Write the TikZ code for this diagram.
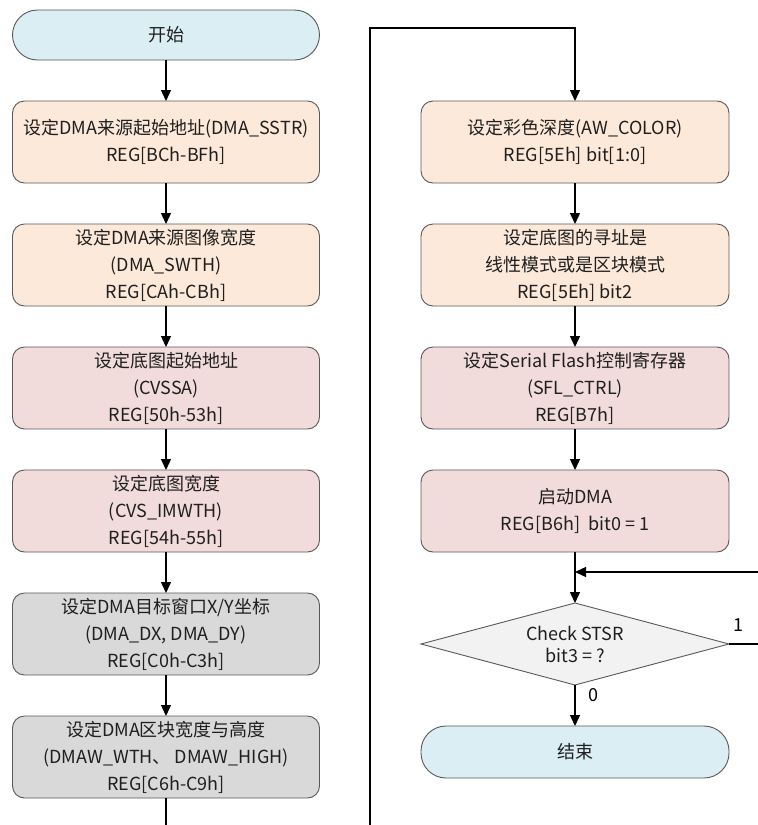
\documentclass[tikz,border=0pt]{standalone}
\usepackage{fontspec}
\setmainfont{Noto Sans CJK SC}
\usepackage{tikz}
\usetikzlibrary{arrows.meta, positioning, shapes.geometric}

\definecolor{termfill}{RGB}{218,238,243}
\definecolor{peachfill}{RGB}{253,233,217}
\definecolor{pinkfill}{RGB}{242,220,219}
\definecolor{grayfill}{RGB}{217,217,217}
\definecolor{decfill}{RGB}{242,242,242}
\definecolor{edgegray}{RGB}{89,89,89}

\begin{document}
\begin{tikzpicture}[x=1pt, y=-1pt, node distance=41pt, >={Triangle[length=11pt, width=10pt]},
		box/.style={rectangle, draw=edgegray, line width=0.9pt, outer sep=0pt, minimum width=307pt, minimum height=82pt, align=center, rounded corners=12pt, inner sep=0pt, text=black!88, font=\fontsize{18}{27}\selectfont},
		term/.style={box, rounded corners=25pt, minimum height=50pt, fill=termfill},
		decide/.style={diamond, draw=edgegray, line width=0.9pt, outer sep=0pt, fill=decfill, aspect=3.76, inner sep=0pt, minimum width=308pt, minimum height=82pt, align=center, text=black!88, font=\fontsize{18}{22}\selectfont},
		flow/.style={->, line width=1.4pt, color=black}]
		
		\useasboundingbox (0,0) rectangle (758,825);
		
		\node[term] (start) at (166,35) {开始};
		\node[box, fill=peachfill, below=of start] (sstr) {设定DMA来源起始地址(DMA\_SSTR)\\REG[BCh-BFh]};
		\node[box, fill=peachfill, below=of sstr] (swth) {设定DMA来源图像宽度\\(DMA\_SWTH)\\REG[CAh-CBh]};
		\node[box, fill=pinkfill, below=of swth] (cvssa) {设定底图起始地址\\(CVSSA)\\REG[50h-53h]};
		\node[box, fill=pinkfill, below=of cvssa] (imwth) {设定底图宽度\\(CVS\_IMWTH)\\REG[54h-55h]};
		\node[box, fill=grayfill, below=of imwth] (dxdy) {设定DMA目标窗口X/Y坐标\\(DMA\_DX, DMA\_DY)\\REG[C0h-C3h]};
		\node[box, fill=grayfill, below=of dxdy] (awwh) {设定DMA区块宽度与高度\\(DMAW\_WTH、 DMAW\_HIGH)\\REG[C6h-C9h]};
		
		\node[box, fill=peachfill, minimum width=308pt] (color) at (575,142) {设定彩色深度(AW\_COLOR)\\REG[5Eh] bit[1:0]};
		\node[box, fill=peachfill, minimum width=308pt, below=of color] (mode) {设定底图的寻址是\\线性模式或是区块模式\\REG[5Eh] bit2};
		\node[box, fill=pinkfill, minimum width=308pt, below=of mode] (sflctrl) {设定Serial Flash控制寄存器\\(SFL\_CTRL)\\REG[B7h]};
		\node[box, fill=pinkfill, minimum width=308pt, below=of sflctrl] (dmago) {启动DMA\\REG[B6h]\ \ bit0 = 1};
		\node[decide] (check) at (575,644) {Check STSR\\bit3 = ?};
		\node[term, minimum width=308pt, minimum height=52pt, below=of check] (finish) {结束};
		
		\coordinate (lout) at (166,825);
		\coordinate (rin) at (370,825);
		\coordinate (rtop) at (370,28);
		\coordinate (join) at (575,572);
		\coordinate (loopin) at (758,572);
		\coordinate (loopout) at (758,644);
		
		\draw[flow] (start) -- (sstr);
		\draw[flow] (sstr) -- (swth);
		\draw[flow] (swth) -- (cvssa);
		\draw[flow] (cvssa) -- (imwth);
		\draw[flow] (imwth) -- (dxdy);
		\draw[flow] (dxdy) -- (awwh);
		\draw[line width=1.4pt] (awwh) -- (lout);
		
		\draw[flow] (rin) -- (rtop) -| (color);
		\draw[flow] (color) -- (mode);
		\draw[flow] (mode) -- (sflctrl);
		\draw[flow] (sflctrl) -- (dmago);
		\draw[flow] (dmago) -- (check);
		\draw[flow] (loopin) -- (join);
		\draw[line width=1.4pt] (check.east) -- node[above right=8pt and 0pt, pos=0, font=\fontsize{18}{20}\selectfont] {1} (loopout);
		\draw[flow] (check) -- node[right=9pt, pos=0.25, font=\fontsize{18}{20}\selectfont] {0} (finish);
	\end{tikzpicture}
\end{document}
